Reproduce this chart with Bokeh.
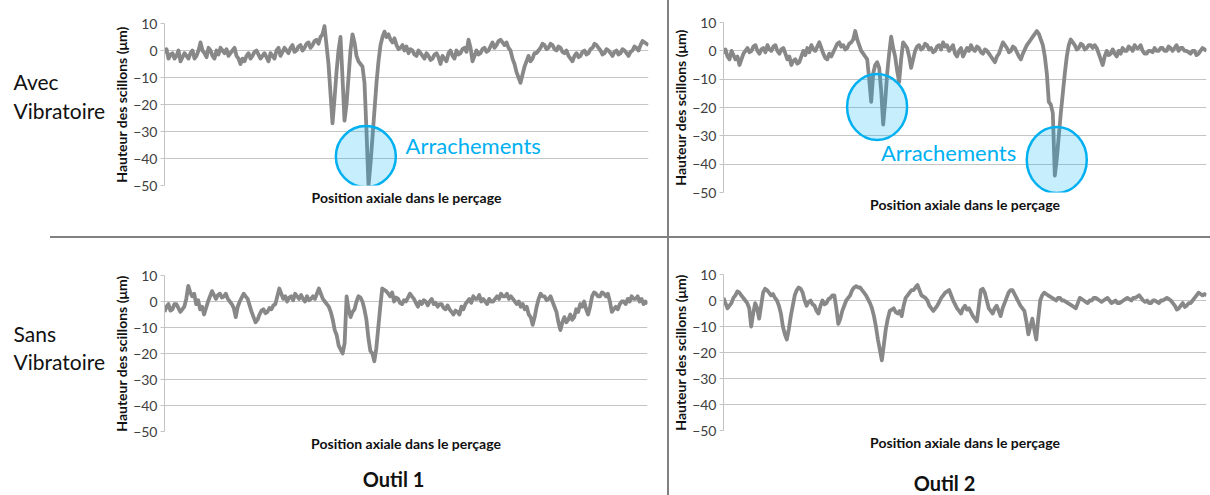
from bokeh.plotting import figure
from bokeh.models import Range1d, FixedTicker, Label, Div
from bokeh.layouts import column, row
from bokeh.embed import file_html
from bokeh.resources import INLINE

# ---------------- data ----------------
y_ticks = [-50, -40, -30, -20, -10, 0, 10]

# Avec vibratoire / Outil 1  (groove height, um, evenly spaced along the bore)
tl_height = [
    -1, 0.5, -3, -1.5, -1, -3, -2, 0, -4, -2.5, -1, -2, -3, -1, 0, -3, -2, 0, 3, 0,
    -1, -2.5, 1, 0, -2, -3, 0, -1.5, 1, 0, -1, 0.5, -2, -1, 0, 1, -2, -3, -5, -3,
    -4, -2, -1, -3, -2, -0.5, 0, -1.5, -3, -2, -1, -2.5, -4, -1, -2, -3, 0, 1, -2, -0.5,
    1, 0, -1, 1, 2, -0.5, 0, 1.5, 2, 0, 1, 2.5, 3, 1, 2, 3.5, 4, 2.5, 5, 6,
    9, 2, -5, -16, -27, -18, -8, 0, 5, -10, -26, -20, -10, 0, 6, 3, -2, -4, -5, -6,
    -12, -30, -50, -42, -32, -22, -12, -4, 2, 5, 7, 5, 6, 4, 3, 4.5, 2, 0.5, 1, 2,
    0, 1.5, -1, 0.5, 0, -1.5, -2, 0, -1, -2, -3, -1, -2, -3.5, -3, -1.5, -1, -2.5, -5, -2,
    -3, -4, -1, 0, -2, -3, 0, -1.5, -1, 0.5, 1, -0.5, 4, 1, -4, -2, 0, -1.5, -1, 0.5,
    1, -0.5, 0, 1.5, 3, 1, 2, 3.5, 4, 3, 2, 3, 1, 0, -3, -5, -8, -10, -12, -9,
    -6, -4, -2, -4, -3, -1, -1, 0, 1, 2.5, 2, 0.5, 1, 2.5, 2, 0.5, 0, 1.5, 1, -0.5,
    -1, 0, -2, -3, -4, -2, -1, -2.5, -2, -0.5, 0, -1.5, -1, 0.5, 1, 2.5, 2, 1, 0, -1.5,
    -1, 0.5, 0, -1, -2, -0.5, 0, -1.5, -1, 0.5, 0, -1, -2, -0.5, 0, 1.5, 1, 0, 2, 3.5,
    3, 2.5, 2,
]

# Avec vibratoire / Outil 2
tr_height = [
    -1, 0.5, -2, -3, 0, -1.5, -3, -2, -5, -3, -1, 0, 1, -0.5, 0, 1.5, 2, 0, -1, 0.5,
    1, -0.5, 2, 0.5, 0, 1.5, 2, 0, -1, 0.5, 1, -1, -3, -2, -5, -3.5, -3, -4.5, -4, -2,
    0, -1.5, 1, -0.5, 2, 0.5, 0, 1.5, 3, 1, -1, -2.5, -3, -1, -2, -0.5, 1, 2.5, 3, 1.5,
    2, 0.5, 1, 2.5, 3, 4, 7, 4, 2, 0, -1, -2, -3, -10, -18, -8, -5, -4, -6, -14,
    -26, -18, -8, -1, 5, 1, -2, -7, -11, -3, 3, 2, 1, -2, -6, -3, 0, 1.5, 2, 0.5,
    1, 2.5, 2, 0.5, 1, -0.5, 0, 1.5, 2, 0.5, 3, 1.5, 2, 0, 1, 2, -1, -2, 0, 1,
    -2, -0.5, 1, 0, 2, 0.5, 0, 1.5, 1, -0.5, -1, 0.5, 0, -1, -2, -3, -4, -2, -1, 1,
    3, 2, 1, -0.5, 0, 1.5, 1, -0.5, -2, -3, -1, 0.5, 2, 3, 4, 5, 6, 7, 6, 4,
    2, -2, -8, -18, -19, -22, -44, -38, -30, -22, -15, -8, -2, 2, 4, 3, 2, 0.5, 1, 2.5,
    2, 0.5, 1, 2, 2, 1, 2, 1, -1, -3, -5, -2, 0, -1.5, -1, 0.5, -1, -2, 0, -1,
    1, 0, 0, 1.5, 1, 0, 2, 1, 1, 2, 0, -1, -1, 0, 0, -0.5, 1, 0, 0, 1,
    1, 0, 0, 1.5, 1, 0, 1, 2, 0, 1, 1, 0, 0, -0.5, -1, 0, 0, -1.5, -1, 0,
    1, 0.5, 0,
]

# Sans vibratoire / Outil 1
bl_height = [
    -4, -2, -1, -3.5, -3, -1, -1, -2.5, -4, -3, -2, 1, 6, 3.5, 2, 3, -1, 0.5, -3, -2,
    -5, -2.5, 0, 2, 4, 2.5, 1, 2.5, 3, 1.5, 2, 3, 1, 0, -1, -2.5, -6, -2, 0, 1.5,
    3, 2, 1, -1.5, -4, -6, -8, -7, -5, -3.5, -3, -4.5, -4, -2.5, -3, -1.5, -1, 2, 5, 3,
    1, 2, 0, 1.5, 2, 0.5, 3, 2, 1, 2.5, 1, 0, 2, 0.5, 1, 2, 1, 3, 5, 3,
    1, 0, -1, -2, -4, -7, -11, -13, -17, -18.5, -20, -16, 2, -3, -6, -4, -3, 0, 2, 1.5,
    0, -3, -7, -14, -19, -20, -23, -18, -10, -2, 5, 4.5, 4, 3, 2, 3.5, 0, 1.5, 1, -0.5,
    -1, 0.5, 0, 1.5, 3, 2, 1, -0.5, -2, 0, -1, 0.5, 0, -1.5, 0, 1, -1, -0.5, -2, -1,
    -1, -2.5, -3, -1.5, -3, -4, -5, -3.5, -4, -5, -2, -3, -1, 0, 1, -0.5, 2, 1, 1, 2.5,
    0, 1, 0, -1, 1, 0, 0, 1, 2, 1, 3, 2, 2, 3, 1, 2, 1, 0, -1, 0,
    -2, -1, -3, -2, -5, -6, -9, -6, -2, 1, 3, 2, 2, 0.5, 1, 2, 0, -2, -4, -8,
    -11, -8, -6, -8, -7, -5, -7, -6, -3, -4, -1, -2, 0, -3, -5, -2, 2, 3.5, 3, 2,
    2, 3.5, 3, 2, 3, 0, -4, -3, -2, -3, -1, 0, 0, -1, 1, 0, 2, 1, 1, 2,
    0, 1, -1, 0, -1,
]

# Sans vibratoire / Outil 2
br_height = [
    1, -1, -3, -2, -1, 1, 2, 3.5, 3, 2, 1, 0, -1, -3, -10, -5, -1, -3, -7, -2,
    3, 4.5, 4, 3, 2, 2.5, 1, 0, -2, -5, -10, -13, -15, -11, -6, -2, 2, 4, 5, 4.5,
    3, 0, -2, -0.5, 0, -1.5, -2, -4, -5, -2, 0, -1.5, -1, 0.5, 1, 2, 2, -3, -9, -7,
    -4, -2, 0, 1, 2, 4, 5, 5.5, 5, 5, 4, 3, 2, 0.5, -1, -3, -6, -10, -15, -19,
    -23, -17, -11, -7, -4, -3.5, -3, -4.5, -5, -4, -6, -2, 1, 2, 3, 4, 4, 5, 6, 4,
    2, 1.5, 1, 0, -2, -3, -4, -3, -2, -0.5, 1, 2, 3, 3.5, 4, 2, 0, -1.5, -3, -4,
    -5, -3, -2, -3.5, -3, -4.5, -6, -7, -8, -2, 4, 4.5, 3, 0, -3, -4, -5, -3, -2, -4,
    -6, -3, -1, 1, 3, 4, 4, 2.5, 1, -0.5, -2, -3, -4, -8, -13, -10, -7, -11, -15, -7,
    0, 2, 3, 2.5, 2, 1.5, 1, 0.5, 0, 1, 1, 0, 0, -0.5, -1, -1.5, -2, -2.5, -3, -1,
    1, 0.5, 0, -0.5, -1, 0, 0, 1, 1, 0.5, 0, -0.5, 0, 0.5, 1, 0, -1, -0.5, 0, -1,
    -1, -0.5, 0, 0.5, 1, 0.5, 0, 1, 1, 1.5, 2, 1, 0, -0.5, 0, -1, -1, 0, 0, -0.5,
    -1, 0, 0, 0.5, 1, 0.5, 0, -1, -2, -3.5, -3, -2, -1, -2.5, -2, -1, -1, 0, 1, 2,
    3, 2.5, 2, 2.5, 2,
]

# highlighted tear-outs ("Arrachements"): (fraction of the profile length, height)
tl_circle_pos = [0.416]
tl_circle_y = [-39.3]
tr_circle_pos = [0.318, 0.69]
tr_circle_y = [-19.8, -38.5]
tl_note = (0.498, -35.2)
tr_note = (0.326, -36.0)

row_labels = [("Avec", "Vibratoire"), ("Sans", "Vibratoire")]
col_labels = ["Outil 1", "Outil 2"]
x_title = "Position axiale dans le perçage"
y_title = "Hauteur des scillons (μm)"
note_text = "Arrachements"

# ---------------- styling ----------------
FONT = "Lato"
LINE_COLOR = "#888888"
GRID_COLOR = "#c4c4c4"
BLUE = "#00B0F0"
DIV_COLOR = "#808080"


def panel(heights, width, height, left, right, top, bottom):
    n = len(heights)
    p = figure(width=width, height=height, output_backend="svg", toolbar_location=None,
               x_range=Range1d(0, n - 1), y_range=Range1d(-50, 10),
               min_border_left=left, min_border_right=right,
               min_border_top=top, min_border_bottom=bottom, frame_align=False)
    p.outline_line_color = None
    p.background_fill_color = "white"
    p.border_fill_color = "white"
    p.xgrid.visible = False
    p.ygrid.grid_line_color = GRID_COLOR
    p.ygrid.grid_line_width = 1
    p.yaxis.ticker = FixedTicker(ticks=y_ticks)
    p.yaxis.minor_tick_line_color = None
    p.yaxis.axis_line_color = GRID_COLOR
    p.yaxis.major_tick_line_color = GRID_COLOR
    p.yaxis.major_tick_out = 4
    p.yaxis.major_tick_in = 0
    p.yaxis.major_label_standoff = 3
    p.yaxis.major_label_text_font = FONT
    p.yaxis.major_label_text_font_size = "14px"
    p.yaxis.major_label_text_color = "#404040"
    p.yaxis.axis_label = y_title
    p.yaxis.axis_label_text_font = FONT
    p.yaxis.axis_label_text_font_style = "bold"
    p.yaxis.axis_label_text_font_size = "14px"
    p.yaxis.axis_label_text_color = "#111111"
    p.yaxis.axis_label_standoff = 0
    p.xaxis.ticker = FixedTicker(ticks=[])
    p.xaxis.axis_line_color = None
    p.xaxis.major_tick_line_color = None
    p.xaxis.minor_tick_line_color = None
    p.xaxis.major_label_standoff = 0
    p.xaxis.axis_label = x_title
    p.xaxis.axis_label_text_font = FONT
    p.xaxis.axis_label_text_font_style = "bold"
    p.xaxis.axis_label_text_font_size = "14px"
    p.xaxis.axis_label_text_color = "#111111"
    p.xaxis.axis_label_standoff = 3
    p.line(x=list(range(n)), y=heights, line_color=LINE_COLOR, line_width=3.8,
           line_join="round")
    return p


def text_panel(width, height, items):
    """A blank figure whose frame is the whole canvas, carrying text labels."""
    p = figure(width=width, height=height, output_backend="svg", toolbar_location=None,
               x_range=Range1d(0, 1), y_range=Range1d(0, 1),
               min_border=0, min_border_left=0, min_border_right=0,
               min_border_top=0, min_border_bottom=0, frame_align=False)
    p.axis.visible = False
    p.grid.visible = False
    p.outline_line_color = None
    p.border_fill_color = "white"
    p.background_fill_color = "white"
    for (x, y, text, size, style, align) in items:
        p.add_layout(Label(x=x, y=y, x_units="screen", y_units="screen", text=text,
                           text_font=FONT, text_font_size=size, text_font_style=style,
                           text_color="#111111", text_align=align, text_baseline="middle"))
    return p


def circles(p, n, pos, ys, h):
    xs = [f * (n - 1) for f in pos]
    p.ellipse(x=xs, y=ys, width=60, height=h, width_units="screen", height_units="screen",
              fill_color=BLUE, fill_alpha=0.22, line_color=BLUE, line_width=2.5)


def note(p, n, xy):
    p.add_layout(Label(x=xy[0] * (n - 1), y=xy[1], text=note_text, text_color=BLUE,
                       text_font=FONT, text_font_size="22px", text_baseline="middle"))


# row 1 (y 0..236)
lab1 = text_panel(110, 236, [(13, 155, row_labels[0][0], "21px", "normal", "left"),
                             (13, 126, row_labels[0][1], "21px", "normal", "left")])
tl = panel(tl_height, 557, 236, 52, 19, 23, 51)
circles(tl, len(tl_height), tl_circle_pos, tl_circle_y, 61)
note(tl, len(tl_height), tl_note)
tr = panel(tr_height, 541, 236, 53, 4, 22, 44)
circles(tr, len(tr_height), tr_circle_pos, tr_circle_y, 66)
note(tr, len(tr_height), tr_note)

# row 2 (y 238..455)
lab2 = text_panel(110, 217, [(13, 122, row_labels[1][0], "21px", "normal", "left"),
                             (13, 94, row_labels[1][1], "21px", "normal", "left")])
bl = panel(bl_height, 557, 217, 49, 20, 37, 24)
br = panel(br_height, 541, 217, 52, 4, 36, 25)

# row 3 (y 455..495)
out1 = text_panel(667, 40, [(393, 17, col_labels[0], "20px", "bold", "center")])
out2 = text_panel(541, 40, [(275, 13, col_labels[1], "20px", "bold", "center")])


def vline(h):
    return Div(text="", width=2, height=h, margin=0, styles={"background-color": DIV_COLOR})


hdiv = Div(text="", width=1210, height=2, margin=0,
           styles={"background": f"linear-gradient(to right, #ffffff 0px, #ffffff 50px, {DIV_COLOR} 50px)"})

layout = column(row(lab1, tl, vline(236), tr), hdiv,
                row(lab2, bl, vline(217), br),
                row(out1, vline(40), out2))

open("out.html", "w").write(file_html(layout, INLINE))
